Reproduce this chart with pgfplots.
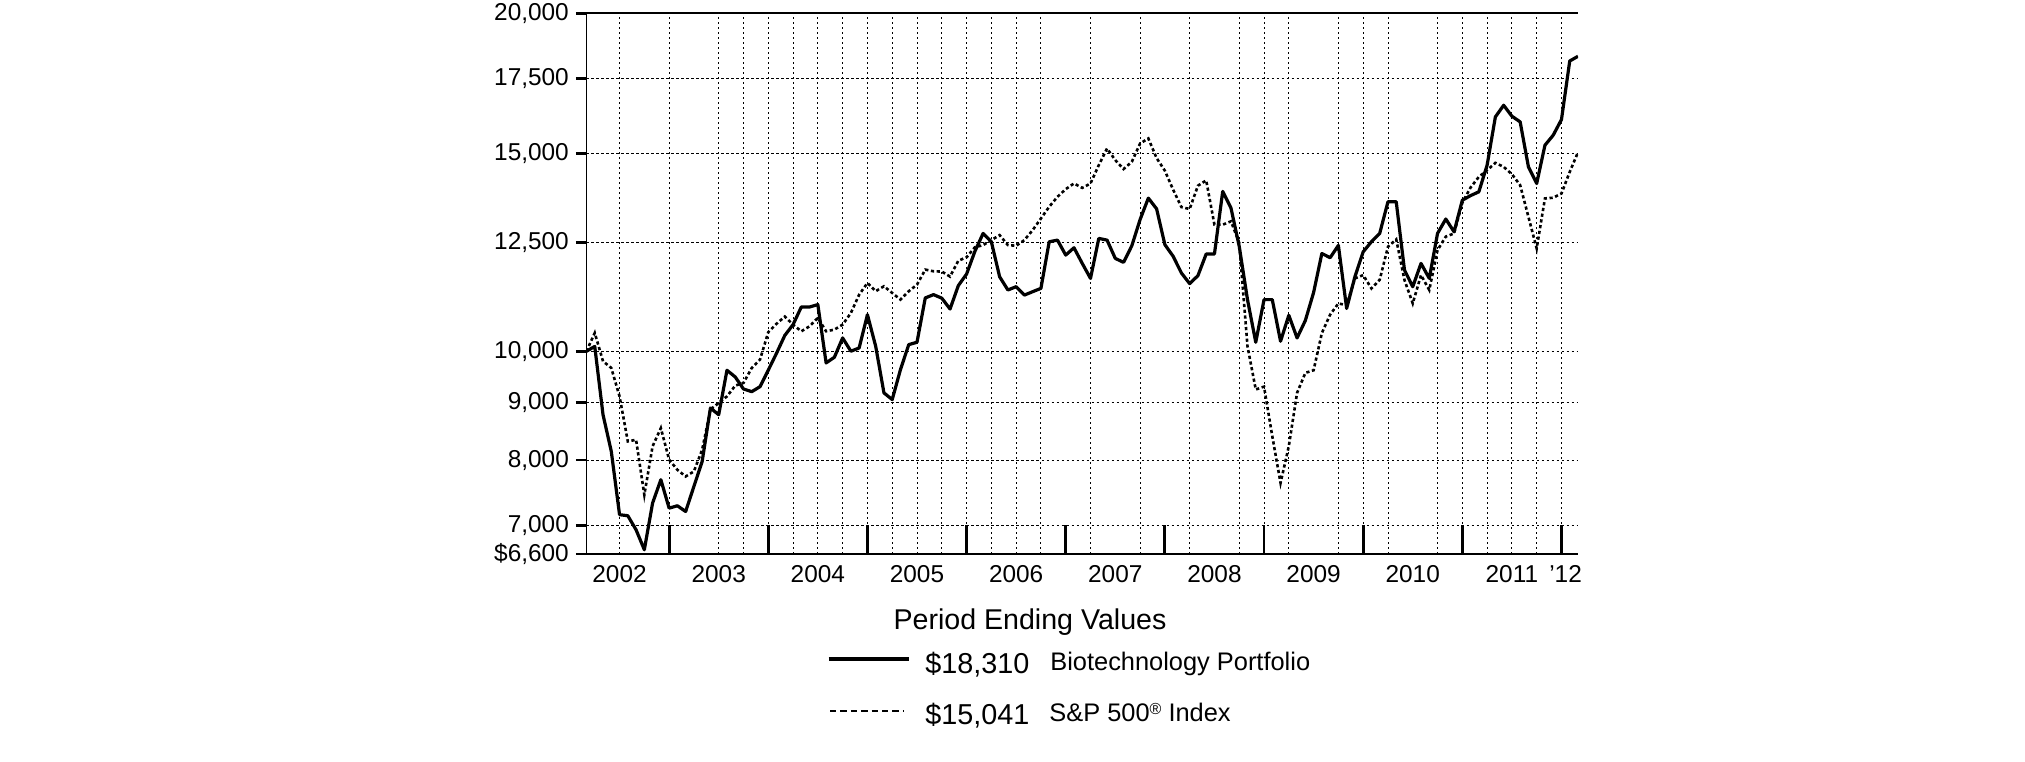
\documentclass[border=0pt]{standalone}
\usepackage{fontspec}
\setmainfont{Liberation Sans}
\usepackage{pgfplots}
\usepackage{pgfplotstable}
\pgfplotsset{compat=1.18}
\pgfplotstableread{
m bio sp
0 10000 10000
1 10100 10383
2 8780 9797
3 8145 9664
4 7153 9117
5 7138 8313
6 6935 8340
7 6657 7450
8 7326 8230
9 7685 8543
10 7250 8007
11 7285 7843
12 7200 7737
13 7580 7817
14 7980 8173
15 8902 8873
16 8780 8995
17 9618 9117
18 9487 9319
19 9256 9371
20 9205 9664
21 9300 9830
22 9620 10400
23 9960 10580
24 10330 10737
25 10562 10562
26 10951 10418
27 10951 10526
28 11004 10707
29 9764 10418
30 9878 10454
31 10277 10562
32 10000 10817
33 10068 11231
34 10780 11502
35 10103 11310
36 9182 11426
37 9057 11270
38 9631 11118
39 10137 11310
40 10186 11463
41 11155 11822
42 11231 11782
43 11150 11775
44 10905 11655
45 11440 12040
46 11715 12125
47 12270 12375
48 12733 12432
49 12517 12560
50 11651 12689
51 11339 12432
52 11416 12415
53 11221 12560
54 11299 12820
55 11377 13130
56 12517 13448
57 12560 13726
58 12180 13944
59 12364 14107
60 11974 13979
61 11611 14107
62 12603 14647
63 12560 15156
64 12097 14798
65 12000 14530
66 12415 14748
67 13100 15312
68 13690 15471
69 13390 14860
70 12443 14480
71 12150 13927
72 11741 13440
73 11487 13386
74 11677 14042
75 12207 14196
76 12207 12963
77 13879 12963
78 13414 13053
79 12400 12486
80 11117 10103
81 10186 9245
82 11117 9300
83 11117 8402
84 10207 7635
85 10766 8231
86 10277 9182
87 10650 9566
88 11280 9618
89 12220 10380
90 12115 10780
91 12425 11030
92 10918 10992
93 11651 11611
94 12262 11690
95 12517 11375
96 12733 11578
97 13588 12390
98 13588 12577
99 11811 11573
100 11415 11031
101 11974 11690
102 11611 11339
103 12733 12305
104 13115 12650
105 12775 12733
106 13630 13560
107 13760 13990
108 13868 14300
109 14646 14496
110 16170 14715
111 16560 14596
112 16193 14378
113 16005 14058
114 14596 13174
115 14106 12347
116 15258 13680
117 15575 13700
118 16083 13820
119 18136 14446
120 18310 15041
}\datatable

\begin{document}
\begin{tikzpicture}
\useasboundingbox (-293.25pt,-103.5pt) rectangle (719.25pt,277pt);
\begin{axis}[
  at={(0pt,0pt)}, anchor=south west,
  scale only axis, width=495.75pt, height=270.35pt,
  xmin=0, xmax=120,
  ymode=log, ymin=6600, ymax=20000,
  clip mode=individual,
  axis line style={draw=none},
  ytick={6600,7000,8000,9000,10000,12500,15000,17500,20000},
  yticklabels={{\$6,600},{7,000},{8,000},{9,000},{10,000},{12,500},{15,000},{17,500},{20,000}},
  yminorticks=false,
  ytick pos=left,
  tick align=outside,
  major tick length=5.3pt,
  ytick style={black, line width=1.3pt},
  xtick={4,16,28,40,52,64,76,88,100,112,118.5},
  xticklabels={2002,2003,2004,2005,2006,2007,2008,2009,2010,2011,'12},
  xtick style={draw=none},
  xticklabel style={yshift=3pt},
  xmajorgrids=false,
  ymajorgrids=true,
  extra x ticks={4,10,16,19,22,25,28,31,34,37,40,43,46,49,52,55,61,67,73,79,82,85,91,94,97,103,106,109,112,115,118},
  extra x tick labels={},
  extra x tick style={xmajorgrids=true, xtick style={draw=none}},
  major grid style={black, line width=0.45pt, dash pattern=on 1.2pt off 1.3pt},
  tick label style={font=\fontsize{12.2}{14}\selectfont},
]
\addplot[black, line width=1.3pt, dash pattern=on 1.6pt off 1.3pt] table[x=m,y=sp]{\datatable};
\addplot[black, line width=1.6pt, line join=round] table[x=m,y=bio]{\datatable};
\pgfplotsinvokeforeach{10,22,34,46,58,70,82,94,106,118}{
  \draw[black, line width=1.4pt] (axis cs:#1,6600) -- (axis cs:#1,7000);
}
\end{axis}
\draw[black, line width=0.9pt] (0pt,270.35pt) -- (0pt,0pt) -- (495.75pt,0pt);
\draw[black, line width=0.9pt] (0pt,270.35pt) -- (495.75pt,270.35pt);
\node[font=\fontsize{14.3}{16}\selectfont] at (221.75pt,-34pt) {Period Ending Values};
\draw[black, line width=2pt] (121pt,-52.5pt) -- (161.2pt,-52.5pt);
\node[anchor=base west, inner sep=0pt, font=\fontsize{14.4}{16}\selectfont] at (169.25pt,-59.6pt) {\$18,310};
\node[anchor=base west, inner sep=0pt, font=\fontsize{12.7}{15}\selectfont] at (231.75pt,-58pt) {Biotechnology Portfolio};
\draw[black, line width=1pt, dash pattern=on 3.2pt off 2pt] (121.75pt,-78.5pt) -- (158.6pt,-78.5pt);
\node[anchor=base west, inner sep=0pt, font=\fontsize{14.4}{16}\selectfont] at (169.25pt,-85pt) {\$15,041};
\node[anchor=base west, inner sep=0pt, font=\fontsize{12.7}{15}\selectfont] at (231.25pt,-83.5pt) {S\&P 500{\fontsize{8}{8}\selectfont\raisebox{0.75ex}{®}} Index};
\end{tikzpicture}
\end{document}
